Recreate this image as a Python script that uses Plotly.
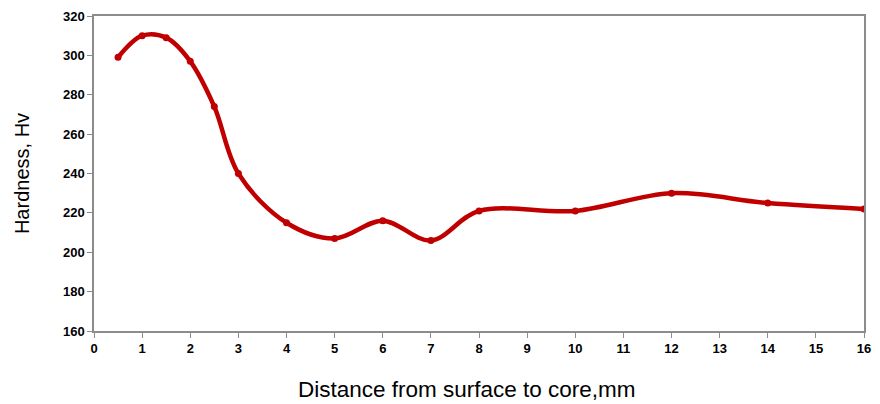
import plotly.graph_objects as go

distance_mm = [0.5, 1, 1.5, 2, 2.5, 3, 4, 5, 6, 7, 8, 10, 12, 14, 16]
hardness_hv = [299, 310, 309, 297, 274, 240, 215, 207, 216, 206, 221, 221, 230, 225, 222]

x_ticks = list(range(0, 17))
y_ticks = list(range(160, 321, 20))

fig = go.Figure()
fig.add_trace(go.Scatter(
    x=distance_mm, y=hardness_hv,
    mode="lines+markers",
    line=dict(color="#C00000", width=4.5, shape="spline", smoothing=1.0),
    marker=dict(color="#C00000", size=7),
    showlegend=False,
))

axis_common = dict(
    showline=True, linecolor="#8c8c8c", linewidth=1.5, mirror=True,
    ticks="outside", ticklen=5, tickcolor="#8c8c8c", tickwidth=1,
    showgrid=False, zeroline=False, automargin=False,
    tickfont=dict(family="Liberation Sans, Arial", size=13, color="black"),
)

fig.update_layout(
    width=880, height=404,
    margin=dict(l=94, r=16, t=16, b=73),
    paper_bgcolor="white", plot_bgcolor="white",
    xaxis=dict(range=[0, 16], tickvals=x_ticks,
               ticktext=[f"<b>{v}</b>" for v in x_ticks],
               **axis_common),
    yaxis=dict(range=[160, 320], tickvals=y_ticks,
               ticktext=[f"<b>{v}</b>" for v in y_ticks],
               title=dict(text="Hardness, Hv",
                          font=dict(family="Liberation Sans, Arial", size=20, color="black"),
                          standoff=28),
               **axis_common),
    annotations=[dict(
        text="Distance from surface to core,mm",
        xref="paper", yref="paper", x=0.484, y=-0.185,
        xanchor="center", yanchor="middle", showarrow=False,
        font=dict(family="Liberation Sans, Arial", size=22.5, color="black"),
    )],
)

fig.write_html("out.html")
